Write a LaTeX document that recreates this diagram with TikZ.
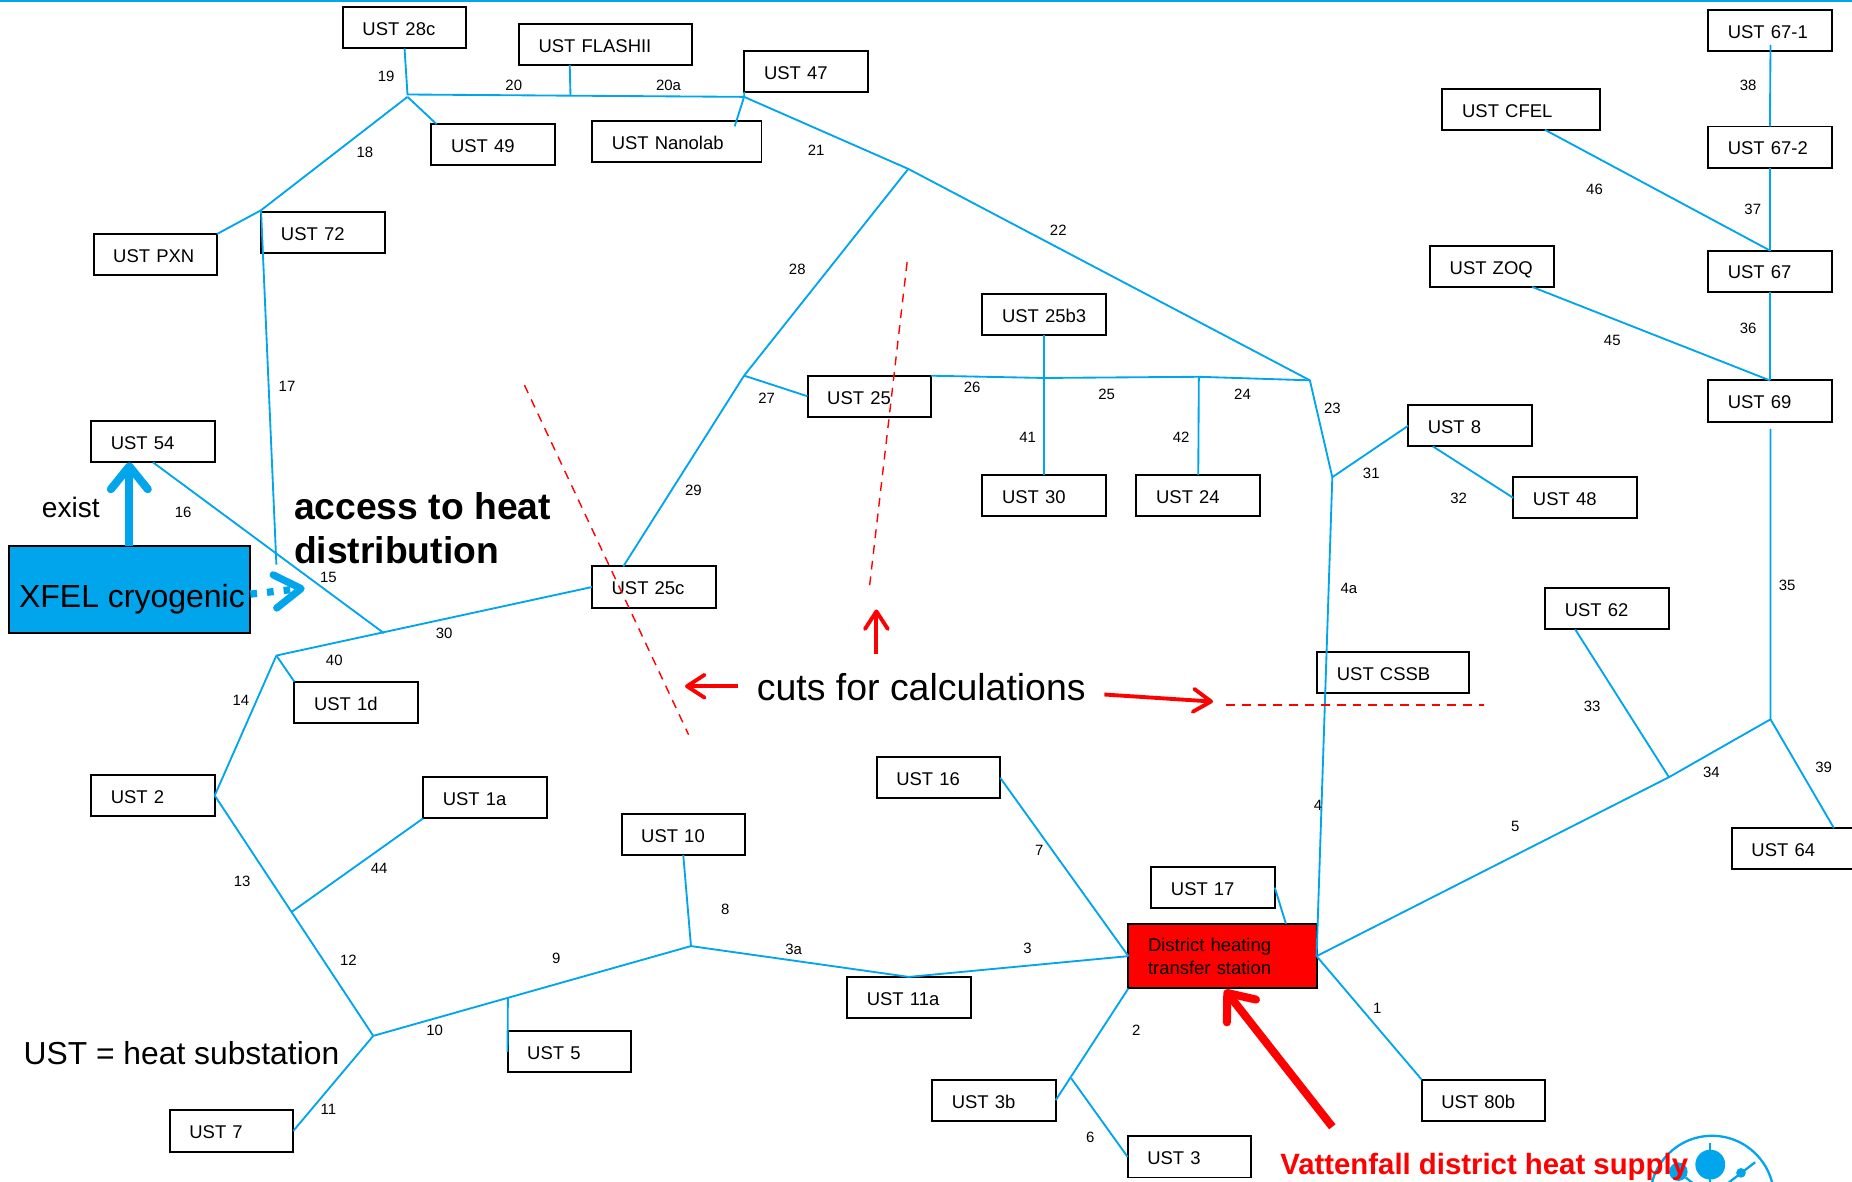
\documentclass[tikz,border=0pt]{standalone}
\usepackage{fontspec}
\setmainfont{Liberation Sans}
\usetikzlibrary{arrows.meta}
\definecolor{pipeblue}{HTML}{00A5EC}
\begin{document}
\begin{tikzpicture}[x=0.023622cm, y=-0.023622cm, outer sep=0pt]
		\tikzstyle{every node}=[align=left]
		\tikzstyle{boxbase}=[draw=black, line width=1.13pt, text width=47.9pt, inner xsep=11.2pt, inner ysep=0pt, minimum height=23.4pt, font=\fontsize{10.5}{12.9}\selectfont]
		\tikzstyle{ustbox}=[boxbase, text height=9pt, text depth=0pt]
		\tikzstyle{pipe}=[draw=pipeblue, line width=1.05pt]
		\tikzstyle{cut}=[draw=red, line width=0.8pt, dash pattern=on 5pt off 4pt]
		\tikzstyle{num}=[inner sep=0pt, font=\fontsize{8.5}{10}\selectfont]
		\tikzstyle{redarrow}=[draw=red, line width=2.2pt, >={Straight Barb[length=10pt, width=13pt, round]}]
		\tikzstyle{fatarrow}=[line width=4.6pt, >={Straight Barb[length=13pt, width=21pt, round]}]
			\clip (0,0) rectangle (1568,1000.7);
			\draw[draw=pipeblue, line width=1.2pt] (0,0.9) -- (1568,0.9);

			\node[ustbox] (ust28c) at (342.5,23.5) {UST 28c};
			\node[ustbox, text width=76pt] (ustflash) at (512.5,37.5) {UST FLASHII};
			\node[ustbox] (ust47) at (682.5,60.5) {UST 47};
			\node[ustbox, text width=74pt] (ustnano) at (573,119.5) {UST Nanolab};
			\node[ustbox] (ust49) at (417.5,122.5) {UST 49};
			\node[ustbox] (ustpxn) at (131.5,215.5) {UST PXN};
			\node[ustbox] (ust72) at (273.5,196.5) {UST 72};
			\node[ustbox, text width=67.3pt] (ustcfel) at (1288,92.5) {UST CFEL};
			\node[ustbox] (ust671) at (1498.5,25.5) {UST 67-1};
			\node[ustbox] (ust672) at (1498.5,124.5) {UST 67-2};
			\node[ustbox] (ust67) at (1498.5,229.5) {UST 67};
			\node[ustbox] (ustzoq) at (1263,225.5) {UST ZOQ};
			\node[ustbox] (ust69) at (1498.5,339.5) {UST 69};
			\node[ustbox] (ust25b3) at (884,266.5) {UST 25b3};
			\node[ustbox] (ust25) at (736,335.5) {UST 25};
			\node[ustbox] (ust30) at (884,419.5) {UST 30};
			\node[ustbox] (ust24) at (1014.5,419.5) {UST 24};
			\node[ustbox] (ust8) at (1244.5,360.5) {UST 8};
			\node[ustbox] (ust48) at (1333.5,421.5) {UST 48};
			\node[ustbox] (ust54) at (129.5,374) {UST 54};
			\node[ustbox] (ust25c) at (553.5,497) {UST 25c};
			\node[ustbox] (ust62) at (1360.5,515.5) {UST 62};
			\node[ustbox, text width=64pt] (ustcssb) at (1179.5,569.5) {UST CSSB};
			\node[ustbox] (ust1d) at (301.5,594.5) {UST 1d};
			\node[ustbox] (ust2) at (129.5,673.5) {UST 2};
			\node[ustbox] (ust1a) at (410.5,675.5) {UST 1a};
			\node[ustbox] (ust16) at (794.5,658.5) {UST 16};
			\node[ustbox] (ust10) at (578.5,706.5) {UST 10};
			\node[ustbox] (ust64) at (1518.5,718.5) {UST 64};
			\node[ustbox] (ust17) at (1027,751.5) {UST 17};
			\node[ustbox] (ust11a) at (769.5,844.5) {UST 11a};
			\node[ustbox] (ust5) at (482,890.5) {UST 5};
			\node[ustbox] (ust3b) at (841.5,931.5) {UST 3b};
			\node[ustbox] (ust3) at (1007,979.5) {UST 3};
			\node[ustbox] (ust7) at (196,957.5) {UST 7};
			\node[ustbox] (ust80b) at (1256,931.5) {UST 80b};
			\node[boxbase, fill=red, text width=84.7pt, minimum height=36.8pt] (station) at (1035,809.5) {District heating\\transfer station};
			\node[draw=black, line width=1.13pt, fill=pipeblue, minimum width=137.3pt, minimum height=49.5pt, inner sep=0pt, text height=21pt, text depth=0pt, font=\fontsize{18.2}{20}\selectfont] (xfel) at (109.5,499) {\hspace*{3pt}XFEL cryogenic};

			\coordinate (j19) at (345,80);
			\coordinate (j18) at (345,82);
			\coordinate (j20) at (483,81);
			\coordinate (j21) at (630,82);
			\coordinate (j22) at (769,143);
			\coordinate (j27) at (630,318);
			\coordinate (j17) at (221,178);
			\coordinate (j15) at (234,478);
			\coordinate (j30) at (325,536);
			\coordinate (j40) at (234,555);
			\coordinate (j26) at (884,320);
			\coordinate (j24) at (1015,319);
			\coordinate (j23) at (1109,322);
			\coordinate (j31) at (1128,404);
			\coordinate (j44) at (247,772);
			\coordinate (j10) at (316,877);
			\coordinate (j5) at (430,845);
			\coordinate (j8) at (585,801);
			\coordinate (j6) at (907,913);
			\coordinate (j34) at (1413,658);
			\coordinate (j35) at (1499,609);
			\coordinate (end35) at (1499,363);
			\coordinate (end38) at (1499,38);
			\coordinate (endnano) at (622,107);

			\draw[pipe] (ust28c.south) -- (j19) -- (j20) -- (j21) -- (j22) -- (j23) -- (j31);
			\draw[pipe] (ustflash.210.7) -- (j20);
			\draw[pipe] (ust47.south west) -- (j21);
			\draw[pipe] (endnano) -- (j21);
			\draw[pipe] (j18) -- (ust49.160.9);
			\draw[pipe] (j18) -- (j17) -- (ustpxn.north east);
			\draw[pipe] (j17) -- (j15);
			\draw[pipe] (j22) -- (j27) -- (ust25c.146.8);
			\draw[pipe] (j27) -- (ust25.west);
			\draw[pipe] (ust25.north east) -- (j26) -- (j24) -- (j23);
			\draw[pipe] (ust25b3.south) -- (ust30.north);
			\draw[pipe] (j24) -- (ust24.north);
			\draw[pipe] (j31) -- (ust8.west);
			\draw[pipe] (ust8.209) -- (ust48.west);
			\draw[pipe] (j31) -- (station.east);
			\draw[pipe] (ust54.south) -- (j30);
			\draw[pipe] (j40) -- (ust25c.west);
			\draw[pipe] (j40) -- (ust1d.north west);
			\draw[pipe] (j40) -- (ust2.east) -- (j10);
			\draw[pipe] (j44) -- (ust1a.south west);
			\draw[pipe] (j10) -- (j8) -- (ust11a.north) -- (station.west);
			\draw[pipe] (ust10.south) -- (j8);
			\draw[pipe] (j5) -- (ust5.west);
			\draw[pipe] (j10) -- (ust7.east);
			\draw[pipe] (ust16.east) -- (station.west);
			\draw[pipe] (ust17.east) -- (station.27);
			\draw[pipe] (station.south west) -- (ust3b.east);
			\draw[pipe] (j6) -- (ust3.west);
			\draw[pipe] (station.east) -- (ust80b.north west);
			\draw[pipe] (station.east) -- (j34) -- (j35) -- (end35);
			\draw[pipe] (j34) -- (ust62.213.4);
			\draw[pipe] (j35) -- (ust64.27.6);
			\draw[pipe] (end38) -- (ust672.north);
			\draw[pipe] (ust672.south) -- (ust67.north);
			\draw[pipe] (ust67.south) -- (ust69.north);
			\draw[pipe] (ustcfel.-41) -- (ust67.north);
			\draw[pipe] (ustzoq.-27) -- (ust69.north);

			\node[num] (n19) at (327,65) {19};
			\node[num] (n20) at (435,72) {20};
			\node[num] (n20a) at (566,72) {20a};
			\node[num] (n18) at (309,129) {18};
			\node[num] (n21) at (691,127) {21};
			\node[num] (n22) at (896,195) {22};
			\node[num] (n28) at (675,228) {28};
			\node[num] (n17) at (243,327) {17};
			\node[num] (n27) at (649,337) {27};
			\node[num] (n26) at (823,328) {26};
			\node[num] (n25) at (937,334) {25};
			\node[num] (n24) at (1052,334) {24};
			\node[num] (n23) at (1128,346) {23};
			\node[num] (n41) at (870,370) {41};
			\node[num] (n42) at (1000,370) {42};
			\node[num] (n31) at (1161,401) {31};
			\node[num] (n32) at (1235,422) {32};
			\node[num] (n29) at (587,415) {29};
			\node[num] (n16) at (155,434) {16};
			\node[num] (n15) at (278,489) {15};
			\node[num] (n30) at (376,536) {30};
			\node[num] (n40) at (283,559) {40};
			\node[num] (n14) at (204,593) {14};
			\node[num] (n4a) at (1142,498) {4a};
			\node[num] (n35) at (1513,496) {35};
			\node[num] (n33) at (1348,598) {33};
			\node[num] (n34) at (1449,654) {34};
			\node[num] (n39) at (1544,650) {39};
			\node[num] (n5) at (1283,700) {5};
			\node[num] (n4) at (1116,682) {4};
			\node[num] (n44) at (321,735) {44};
			\node[num] (n13) at (205,746) {13};
			\node[num] (n8) at (614,770) {8};
			\node[num] (n7) at (880,720) {7};
			\node[num] (n3a) at (672,804) {3a};
			\node[num] (n3) at (870,803) {3};
			\node[num] (n9) at (471,811) {9};
			\node[num] (n12) at (295,813) {12};
			\node[num] (n10) at (368,872) {10};
			\node[num] (n2) at (962,872) {2};
			\node[num] (n1) at (1166,854) {1};
			\node[num] (n11) at (278,939) {11};
			\node[num] (n6) at (923,963) {6};
			\node[num] (n38) at (1480,72) {38};
			\node[num] (n37) at (1484,177) {37};
			\node[num] (n36) at (1480,278) {36};
			\node[num] (n46) at (1350,160) {46};
			\node[num] (n45) at (1365,288) {45};

			\coordinate (cuta1) at (444,326);
			\coordinate (cuta2) at (583,622);
			\coordinate (cutb1) at (768,222);
			\coordinate (cutb2) at (736,498);
			\coordinate (cutc1) at (1038,597);
			\coordinate (cutc2) at (1256,597);
			\draw[cut] (cuta1) -- (cuta2);
			\draw[cut] (cutb1) -- (cutb2);
			\draw[cut] (cutc1) -- (cutc2);

			\node[inner sep=0pt, font=\fontsize{21.3}{24}\selectfont] (cuts) at (780,582) {cuts for calculations};
			\coordinate (tipa) at (580,581);
			\coordinate (tipb) at (742,516);
			\coordinate (tipc) at (1027,594);
			\coordinate (taila) at (625,581);
			\coordinate (tailb) at (742,554);
			\coordinate (tailc) at (935,588);
			\draw[redarrow, ->] (taila) -- (tipa);
			\draw[redarrow, ->] (tailb) -- (tipb);
			\draw[redarrow, ->] (tailc) -- (tipc);

			\coordinate (supplyend) at (1128,954);
			\coordinate (supplytip) at (1037,838);
			\draw[draw=red, fatarrow, ->] (supplyend) -- (supplytip);

			\draw[draw=pipeblue, fatarrow, ->] (xfel.north) -- (xfel.north |- ust54.south);
			\coordinate (accessfoot) at (212,503);
			\coordinate (accesstip) at (258,498);
			\draw[draw=pipeblue, line width=4.1pt, dash pattern=on 3.8pt off 5.7pt, >={Straight Barb[length=15pt, width=19pt, round]}, ->] (accessfoot) -- (accesstip);

			\node[inner sep=0pt, font=\fontsize{16}{19}\selectfont] (exist) at (60,430) {exist};
			\node[anchor=west, inner sep=0pt, font=\fontsize{21.2}{25}\selectfont\bfseries] (access) at (249,447) {access to heat\\distribution};
			\node[anchor=west, inner sep=0pt, font=\fontsize{18.1}{21}\selectfont] (legend) at (20,892) {UST = heat substation};

			\coordinate (logocenter) at (1449.5,1014);
			\node[circle, fill=pipeblue, minimum size=17pt, inner sep=0pt] (logobig) at (1448,986) {};
			\node[circle, fill=pipeblue, minimum size=10.5pt, inner sep=0pt] (logoleft) at (1421,992) {};
			\node[circle, fill=pipeblue, minimum size=5.5pt, inner sep=0pt] (logoright) at (1474,993) {};
			\coordinate (stemtop) at (1448,968);
			\coordinate (stembot) at (1448,1001);
			\coordinate (armright) at (1486,984);
			\coordinate (armin) at (1460,1004);
			\coordinate (armleft) at (1436,1004);
			\draw[draw=pipeblue, line width=1.3pt] (logocenter) circle (52.4);
			\draw[draw=pipeblue, line width=1.3pt] (stemtop) -- (stembot);
			\draw[draw=pipeblue, line width=1.3pt] (armright) -- (armin);
			\draw[draw=pipeblue, line width=1.3pt] (logoleft) -- (armleft);

			\node[anchor=west, inner sep=0pt, text=red, font=\fontsize{16.7}{19}\selectfont\bfseries] (vattenfall) at (1084,988) {Vattenfall district heat supply};
		\end{tikzpicture}
\end{document}
